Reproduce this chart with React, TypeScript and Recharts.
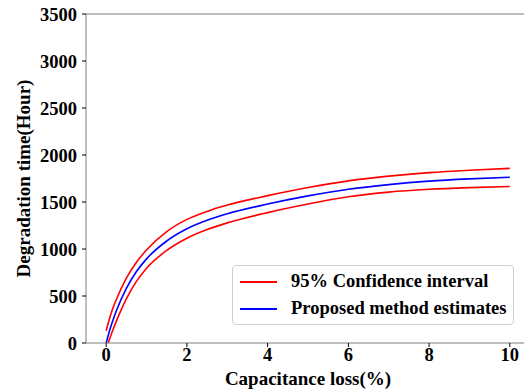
import { LineChart, Line, XAxis, YAxis, Legend, ReferenceLine, Label } from 'recharts';

// Capacitance loss (%)
const loss = [0, 0.05, 0.15, 0.25, 0.5, 0.75, 1, 1.5, 2, 2.5, 3, 4, 5, 6, 7, 8, 9, 10];
// degradation time estimates (hours)
const estimate = [0, 80, 220, 340, 580, 760, 895, 1085, 1215, 1305, 1375, 1478, 1565, 1635, 1685, 1722, 1746, 1763];
const upperBound = [130, 210, 350, 460, 690, 860, 990, 1185, 1315, 1400, 1467, 1568, 1655, 1725, 1775, 1812, 1838, 1858];
const lowerBound = [null, 0, 120, 230, 470, 655, 795, 985, 1115, 1207, 1278, 1387, 1478, 1555, 1605, 1635, 1653, 1665];

const xTicks = [0, 2, 4, 6, 8, 10];
const yTicks = [0, 500, 1000, 1500, 2000, 2500, 3000, 3500];

const data = loss.map((x, i) => ({
  x,
  est: estimate[i],
  upper: upperBound[i],
  lower: lowerBound[i],
}));

const font = '"Liberation Serif", "Times New Roman", serif';
const spine = '#7f7f7f';
const tickStyle = { fill: '#000', fontFamily: font, fontWeight: 'bold', fontSize: 18.5 };
const labelStyle = { fill: '#000', fontFamily: font, fontWeight: 'bold', fontSize: 19 };

function LegendBox({ payload }: any) {
  const items = (payload || []).filter((p: any) => p.type !== 'none');
  return (
    <div
      style={{
        display: 'inline-block',
        border: '1px solid #d0d0d0',
        borderRadius: 4,
        background: '#fff',
        padding: '2px 7px',
        fontFamily: font,
        fontWeight: 'bold',
        fontSize: 18.5,
        color: '#000',
        whiteSpace: 'nowrap',
      }}
    >
      {items.map((p: any) => (
        <div key={p.value} style={{ display: 'flex', alignItems: 'center', height: 27 }}>
          <div style={{ width: 37, height: 2, background: p.color, marginRight: 14 }} />
          <span>{p.value}</span>
        </div>
      ))}
    </div>
  );
}

export default function App() {
  return (
    <div style={{ position: 'absolute', left: 0, top: 0, width: 524, height: 392, overflow: 'hidden', background: '#fff' }}>
      <LineChart width={540} height={392} data={data} margin={{ top: 14, right: 10, left: 0, bottom: 19 }}>
        <XAxis
          dataKey="x"
          type="number"
          domain={[-0.5, 10.5]}
          ticks={xTicks}
          allowDataOverflow
          stroke={spine}
          tickSize={4}
          tickMargin={1}
          tickLine={{ stroke: '#000' }}
          tick={tickStyle}
        >
          <Label value="Capacitance loss(%)" position="bottom" offset={-1} style={labelStyle} />
        </XAxis>
        <YAxis
          type="number"
          width={86}
          domain={[0, 3500]}
          ticks={yTicks}
          stroke={spine}
          tickSize={4}
          tickMargin={5}
          tickLine={{ stroke: '#000' }}
          tick={tickStyle}
        >
          <Label
            value="Degradation time(Hour)"
            angle={-90}
            position="insideLeft"
            dx={18}
            style={{ ...labelStyle, textAnchor: 'middle' }}
          />
        </YAxis>
        <ReferenceLine y={3500} stroke={spine} strokeWidth={1} />
        <ReferenceLine x={10.5} stroke={spine} strokeWidth={1} />
        <Line
          dataKey="upper"
          name="95% Confidence interval"
          type="monotone"
          stroke="#ff0000"
          strokeWidth={1.6}
          dot={false}
          isAnimationActive={false}
        />
        <Line
          dataKey="lower"
          name="lower"
          legendType="none"
          type="monotone"
          stroke="#ff0000"
          strokeWidth={1.6}
          dot={false}
          isAnimationActive={false}
        />
        <Line
          dataKey="est"
          name="Proposed method estimates"
          type="monotone"
          stroke="#0000ff"
          strokeWidth={1.6}
          dot={false}
          isAnimationActive={false}
        />
        <Legend
          layout="vertical"
          verticalAlign="middle"
          align="center"
          content={<LegendBox />}
          wrapperStyle={{ left: 232, top: 265, width: 'auto' }}
        />
      </LineChart>
    </div>
  );
}
